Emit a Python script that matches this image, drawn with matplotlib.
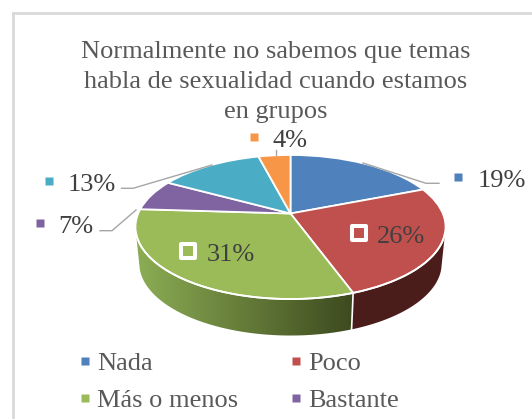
import numpy as np
import matplotlib
matplotlib.use("Agg")
import matplotlib.pyplot as plt
from matplotlib.lines import Line2D
from matplotlib.markers import MarkerStyle
from matplotlib.patches import Polygon, PathPatch
from matplotlib.path import Path
from matplotlib.transforms import Transform

categories = ["Nada", "Poco", "Más o menos", "Bastante", "Otro", "Ninguno"]
values = [19, 25.5, 31.5, 7, 13, 4]
labels = ["19%", "26%", "31%", "7%", "13%", "4%"]
colors = ["#4F81BD", "#C0504D", "#9BBB59", "#8064A2", "#4BACC6", "#F79646"]
title = "Normalmente no sabemos que temas\nhabla de sexualidad cuando estamos\nen grupos"

W, H = 532, 419
CX, CY, RX, RY, K = 290.5, 213.5, 152.3, 69.5, 0.1875
DROP, SHRINK = 36.5, 0.975
SERIF = "Liberation Serif"
FS = 19


def project(x, y, drop=0.0, shrink=1.0):
    w = 1 + K * y
    return CX + shrink * RX * x / w, CY - RY * y / w + drop


class Perspective(Transform):
    input_dims = output_dims = 2
    is_affine = False

    def transform_non_affine(self, pts):
        pts = np.asarray(pts, dtype=float)
        return np.column_stack(project(pts[:, 0], pts[:, 1]))


fig = plt.figure(figsize=(W / 100, H / 100), dpi=100)
ax = fig.add_axes([0, 0, 1, 1])

wedges, _ = ax.pie(values, colors=colors, startangle=90, counterclock=False,
                   wedgeprops=dict(edgecolor="white", linewidth=1.3))
persp = Perspective() + ax.transData
for wedge in wedges:
    wedge.set_transform(persp)
    wedge.set_zorder(4)
ax.set_aspect("auto")
ax.set_xlim(0, W)
ax.set_ylim(H, 0)
ax.axis("off")

# chart frame
ax.plot([13, 13], [H, 13], color="#D9D9D9", lw=2.0, zorder=1)
ax.plot([13, W], [13, 13], color="#D9D9D9", lw=2.0, zorder=1)

# side wall of the disc
fractions = np.cumsum([0] + values) / sum(values)
limit = (np.pi / 2 + np.arcsin(K)) / (2 * np.pi) + 0.012


def wall(f0, f1):
    a = 2 * np.pi * np.linspace(f0, f1, 80)
    x, y = np.sin(a), np.cos(a)
    top = np.column_stack(project(x, y))
    low = np.column_stack(project(x, y, DROP, SHRINK))
    return np.vstack([top, low[::-1]])


red_wall = Polygon(wall(limit, fractions[2]), closed=True, fc="#4A1C1A", ec="none", zorder=2)
ax.add_patch(red_wall)
green_poly = Path(wall(fractions[2], 1 - limit), closed=False)
green_clip = PathPatch(green_poly, transform=ax.transData, fc="none", ec="none")
ax.add_patch(green_clip)
g0, g1 = np.array([0.55, 0.68, 0.33]), np.array([0.24, 0.29, 0.12])
ramp = np.linspace(0, 1, 256)[:, None]
gradient = (g1 * (1 - ramp) + g0 * ramp)[None, :, :]
im = ax.imshow(gradient, extent=(353, 135, 345, 220), aspect="auto", zorder=2)
im.set_clip_path(green_clip)
ax.set_xlim(0, W)
ax.set_ylim(H, 0)
# white seam on the wall between red and green
a = 2 * np.pi * fractions[2]
sx, sy = np.sin(a), np.cos(a)
ax.plot(*zip(project(sx, sy), project(sx, sy, DROP, SHRINK)), color="white", lw=1.2, zorder=3)
# white rim at the front of the top face
a = 2 * np.pi * np.linspace(limit, 1 - limit, 150)
ax.plot(*project(np.sin(a), np.cos(a)), color="white", lw=1.3, zorder=5)

ax.text(275.7, 82, title, ha="center", va="center", family=SERIF, fontsize=FS,
        color="#595959", linespacing=1.48, zorder=6)

# leader lines
leaders = [
    ([363, 426, 439], [163, 183.3, 183.3]),
    ([121.5, 133, 212], [188.3, 188.3, 165]),
    ([100, 112, 136], [230.7, 230.7, 210]),
    ([275.5, 275.5], [150, 155]),
]
for xs, ys in leaders:
    ax.plot(xs, ys, color="#A6A6A6", lw=1.0, zorder=6)

# data labels: text centre and key centre in figure pixels
text_pos = [(502, 180.5), (401, 236.5), (231, 254.5), (75.7, 226.5), (91.6, 185), (290, 141)]
key_pos = [(458, 177), (358.7, 232.7), (188, 251), (40, 223), (48.5, 181), (254, 137)]
boxed = [False, True, True, False, False, False]
for lab, (tx, ty), (kx, ky), col, b in zip(labels, text_pos, key_pos, colors, boxed):
    ax.text(tx, ty, lab, ha="center", va="center", family=SERIF, fontsize=FS, color="#404040", zorder=7)
    if b:
        ax.plot(kx, ky, marker=MarkerStyle("s", joinstyle="round"), ms=10.7, mfc=col, mec="white", mew=2.9, zorder=7)
    else:
        ax.plot(kx, ky, marker="s", ms=6, mfc=col, mec="none", zorder=7)

order = [0, 2, 1, 3]  # matplotlib fills legends by column; the reference reads by row
handles = [Line2D([], [], ls="none", marker="s", ms=6, mfc=colors[i], mec="none") for i in order]
leg = ax.legend(handles, [categories[i] for i in order], ncol=2, frameon=False, loc="upper left",
                bbox_to_anchor=(73 / W, 1 - 352 / H), bbox_transform=fig.transFigure,
                prop=dict(family=SERIF, size=FS), labelcolor="#595959",
                borderpad=0, borderaxespad=0, handlelength=0.9, handletextpad=0.0,
                columnspacing=1.76, labelspacing=0.5)
leg.set_zorder(7)

fig.savefig("out.png", dpi=100)
